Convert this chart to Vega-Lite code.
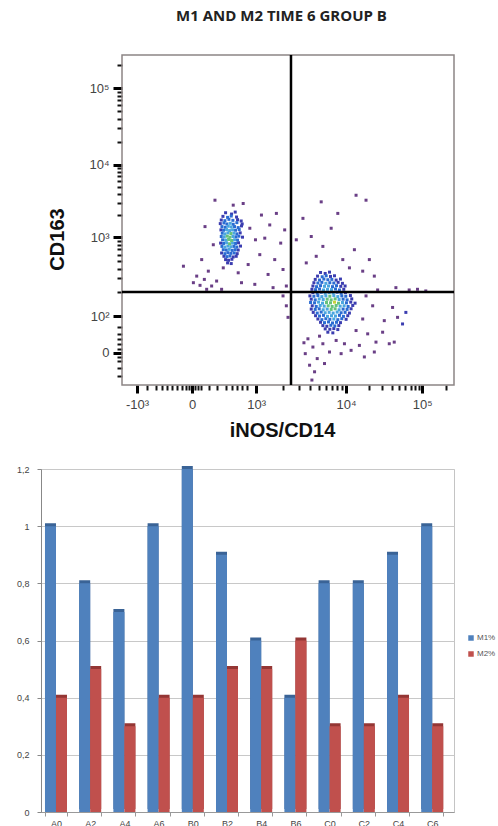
{
  "$schema": "https://vega.github.io/schema/vega-lite/v6.json",
  "padding": {"left": 15, "top": 8, "right": 0, "bottom": 0},
  "spacing": 24,
  "resolve": {"scale": {"color": "independent"}},
  "config": {"font": "Liberation Sans"},
  "datasets": {
    "flow": [
      {"x":31.2,"y":52.2,"d":1},{"x":33.0,"y":51.8,"d":1},{"x":34.1,"y":52.4,"d":1},
      {"x":30.4,"y":51.1,"d":1},{"x":31.8,"y":50.8,"d":2},{"x":32.9,"y":51.2,"d":2},{"x":34.5,"y":50.9,"d":1},
      {"x":29.9,"y":50.0,"d":1},{"x":31.0,"y":49.8,"d":2},{"x":32.2,"y":50.2,"d":2},{"x":33.4,"y":49.9,"d":2},{"x":34.8,"y":50.1,"d":1},{"x":35.9,"y":49.7,"d":1},
      {"x":29.6,"y":48.9,"d":1},{"x":30.7,"y":49.1,"d":2},{"x":31.6,"y":48.8,"d":2},{"x":32.6,"y":49.0,"d":3},{"x":33.5,"y":48.7,"d":2},{"x":34.6,"y":49.2,"d":2},{"x":36.2,"y":48.8,"d":1},
      {"x":30.1,"y":48.0,"d":2},{"x":31.1,"y":47.8,"d":2},{"x":32.0,"y":48.1,"d":3},{"x":32.9,"y":47.9,"d":3},{"x":33.9,"y":48.0,"d":2},{"x":35.0,"y":47.7,"d":2},{"x":36.0,"y":48.2,"d":1},
      {"x":29.8,"y":47.0,"d":1},{"x":30.6,"y":46.9,"d":2},{"x":31.5,"y":47.1,"d":3},{"x":32.4,"y":46.8,"d":3},{"x":33.3,"y":47.0,"d":3},{"x":34.2,"y":46.9,"d":2},{"x":35.3,"y":47.1,"d":2},
      {"x":30.2,"y":46.0,"d":2},{"x":31.0,"y":45.8,"d":3},{"x":31.9,"y":46.1,"d":3},{"x":32.8,"y":45.9,"d":4},{"x":33.7,"y":46.0,"d":3},{"x":34.6,"y":45.8,"d":2},{"x":35.6,"y":46.1,"d":1},
      {"x":29.9,"y":45.0,"d":2},{"x":30.8,"y":44.9,"d":3},{"x":31.7,"y":45.1,"d":4},{"x":32.5,"y":44.8,"d":4},{"x":33.4,"y":45.0,"d":3},{"x":34.3,"y":44.9,"d":2},{"x":35.2,"y":45.1,"d":2},{"x":36.3,"y":44.8,"d":1},
      {"x":30.3,"y":44.0,"d":2},{"x":31.2,"y":43.9,"d":3},{"x":32.1,"y":44.1,"d":4},{"x":33.0,"y":43.8,"d":4},{"x":33.9,"y":44.0,"d":3},{"x":34.8,"y":43.9,"d":2},
      {"x":29.7,"y":43.0,"d":1},{"x":30.6,"y":42.9,"d":2},{"x":31.5,"y":43.1,"d":3},{"x":32.4,"y":42.8,"d":4},{"x":33.3,"y":43.0,"d":3},{"x":34.2,"y":42.9,"d":2},{"x":35.1,"y":43.1,"d":1},
      {"x":30.1,"y":42.0,"d":2},{"x":31.0,"y":41.8,"d":3},{"x":31.9,"y":42.1,"d":3},{"x":32.8,"y":41.9,"d":3},{"x":33.7,"y":42.0,"d":2},{"x":34.6,"y":41.8,"d":2},{"x":35.7,"y":42.1,"d":1},
      {"x":30.5,"y":41.0,"d":2},{"x":31.4,"y":40.9,"d":2},{"x":32.3,"y":41.1,"d":3},{"x":33.2,"y":40.8,"d":2},{"x":34.1,"y":41.0,"d":2},{"x":35.0,"y":40.9,"d":1},
      {"x":30.0,"y":40.0,"d":1},{"x":31.0,"y":39.8,"d":2},{"x":31.9,"y":40.1,"d":2},{"x":32.8,"y":39.9,"d":2},{"x":33.8,"y":40.0,"d":2},{"x":34.7,"y":39.8,"d":1},
      {"x":30.7,"y":39.0,"d":1},{"x":31.6,"y":38.9,"d":2},{"x":32.5,"y":39.1,"d":2},{"x":33.5,"y":38.8,"d":1},{"x":34.4,"y":39.0,"d":1},
      {"x":31.2,"y":38.0,"d":1},{"x":32.1,"y":37.8,"d":1},{"x":33.1,"y":38.1,"d":1},
      {"x":31.8,"y":37.0,"d":1},{"x":32.9,"y":36.8,"d":1},
      {"x":28.0,"y":56.0,"d":0},{"x":36.5,"y":55.0,"d":0},{"x":25.0,"y":48.0,"d":0},{"x":27.5,"y":42.5,"d":0},{"x":38.5,"y":47.5,"d":0},{"x":40.2,"y":44.0,"d":0},{"x":24.0,"y":38.0,"d":0},{"x":26.0,"y":34.5,"d":0},{"x":22.5,"y":33.0,"d":0},{"x":28.5,"y":31.5,"d":0},{"x":30.5,"y":35.5,"d":0},{"x":35.0,"y":34.0,"d":0},{"x":38.0,"y":36.5,"d":0},{"x":41.5,"y":39.5,"d":0},{"x":43.0,"y":44.5,"d":0},{"x":44.5,"y":48.5,"d":0},{"x":46.0,"y":38.0,"d":0},{"x":47.8,"y":43.0,"d":0},{"x":44.0,"y":33.5,"d":0},{"x":40.0,"y":30.5,"d":0},{"x":36.0,"y":31.0,"d":0},{"x":25.5,"y":29.0,"d":0},{"x":21.5,"y":31.0,"d":0},{"x":48.5,"y":35.0,"d":0},{"x":49.5,"y":30.0,"d":0},{"x":45.5,"y":29.5,"d":0},{"x":30.0,"y":29.0,"d":0},{"x":18.5,"y":36.0,"d":0},{"x":33.5,"y":54.5,"d":0},{"x":42.0,"y":51.5,"d":0},{"x":46.5,"y":52.0,"d":0},{"x":49.0,"y":47.0,"d":0},{"x":23.5,"y":30.2,"d":0},{"x":27.0,"y":30.0,"d":0},{"x":24.8,"y":32.0,"d":0},
      {"x":59.8,"y":34.1,"d":1},{"x":61.2,"y":33.8,"d":1},{"x":62.5,"y":34.2,"d":1},
      {"x":58.9,"y":33.0,"d":1},{"x":60.3,"y":32.8,"d":2},{"x":61.5,"y":33.1,"d":2},{"x":62.8,"y":32.9,"d":1},{"x":64.0,"y":33.1,"d":1},
      {"x":58.2,"y":32.0,"d":1},{"x":59.5,"y":31.8,"d":2},{"x":60.8,"y":32.1,"d":2},{"x":62.0,"y":31.9,"d":2},{"x":63.2,"y":32.0,"d":2},{"x":64.5,"y":31.8,"d":1},{"x":65.8,"y":32.1,"d":1},
      {"x":57.8,"y":31.0,"d":1},{"x":59.0,"y":30.9,"d":2},{"x":60.2,"y":31.1,"d":2},{"x":61.4,"y":30.8,"d":3},{"x":62.6,"y":31.0,"d":2},{"x":63.8,"y":30.9,"d":2},{"x":65.1,"y":31.1,"d":1},{"x":66.4,"y":30.8,"d":1},
      {"x":57.5,"y":30.0,"d":1},{"x":58.6,"y":29.8,"d":2},{"x":59.8,"y":30.1,"d":2},{"x":61.0,"y":29.9,"d":3},{"x":62.2,"y":30.0,"d":3},{"x":63.4,"y":29.8,"d":2},{"x":64.6,"y":30.1,"d":2},{"x":65.9,"y":29.9,"d":1},{"x":67.2,"y":30.0,"d":1},
      {"x":57.2,"y":29.0,"d":1},{"x":58.3,"y":28.9,"d":2},{"x":59.5,"y":29.1,"d":2},{"x":60.7,"y":28.8,"d":3},{"x":61.9,"y":29.0,"d":3},{"x":63.1,"y":28.9,"d":3},{"x":64.3,"y":29.1,"d":2},{"x":65.5,"y":28.8,"d":2},{"x":66.8,"y":29.0,"d":1},
      {"x":57.5,"y":28.0,"d":1},{"x":58.8,"y":27.9,"d":2},{"x":60.0,"y":28.1,"d":2},{"x":61.2,"y":27.8,"d":3},{"x":62.4,"y":28.0,"d":3},{"x":63.6,"y":27.9,"d":3},{"x":64.8,"y":28.1,"d":2},{"x":66.0,"y":27.8,"d":2},{"x":67.3,"y":28.0,"d":1},
      {"x":56.6,"y":27.0,"d":1},{"x":57.8,"y":26.9,"d":2},{"x":59.0,"y":27.1,"d":2},{"x":60.2,"y":26.8,"d":3},{"x":61.4,"y":27.0,"d":3},{"x":62.6,"y":26.9,"d":4},{"x":63.8,"y":27.1,"d":3},{"x":65.0,"y":26.8,"d":3},{"x":66.2,"y":27.0,"d":2},{"x":67.4,"y":26.9,"d":2},{"x":68.8,"y":27.1,"d":1},
      {"x":57.0,"y":26.0,"d":1},{"x":58.2,"y":25.8,"d":2},{"x":59.4,"y":26.1,"d":3},{"x":60.6,"y":25.9,"d":3},{"x":61.8,"y":26.0,"d":4},{"x":63.0,"y":25.8,"d":4},{"x":64.2,"y":26.1,"d":4},{"x":65.4,"y":25.9,"d":3},{"x":66.6,"y":26.0,"d":2},{"x":67.8,"y":25.8,"d":2},{"x":69.2,"y":26.1,"d":1},
      {"x":56.8,"y":25.0,"d":2},{"x":58.0,"y":24.9,"d":2},{"x":59.2,"y":25.1,"d":3},{"x":60.4,"y":24.8,"d":3},{"x":61.6,"y":25.0,"d":4},{"x":62.8,"y":24.9,"d":4},{"x":64.0,"y":25.1,"d":5},{"x":65.2,"y":24.8,"d":4},{"x":66.4,"y":25.0,"d":3},{"x":67.6,"y":24.9,"d":2},{"x":68.9,"y":25.1,"d":1},{"x":70.2,"y":24.8,"d":1},
      {"x":57.3,"y":24.0,"d":1},{"x":58.5,"y":23.8,"d":2},{"x":59.7,"y":24.1,"d":3},{"x":60.9,"y":23.9,"d":3},{"x":62.1,"y":24.0,"d":4},{"x":63.3,"y":23.8,"d":4},{"x":64.5,"y":24.1,"d":4},{"x":65.7,"y":23.9,"d":3},{"x":66.9,"y":24.0,"d":3},{"x":68.1,"y":23.8,"d":2},{"x":69.5,"y":24.1,"d":1},
      {"x":57.0,"y":23.0,"d":1},{"x":58.2,"y":22.9,"d":2},{"x":59.4,"y":23.1,"d":2},{"x":60.6,"y":22.8,"d":3},{"x":61.8,"y":23.0,"d":3},{"x":63.0,"y":22.9,"d":4},{"x":64.2,"y":23.1,"d":4},{"x":65.4,"y":22.8,"d":3},{"x":66.6,"y":23.0,"d":2},{"x":67.8,"y":22.9,"d":2},{"x":69.0,"y":23.1,"d":1},
      {"x":57.6,"y":22.0,"d":1},{"x":58.8,"y":21.8,"d":2},{"x":60.0,"y":22.1,"d":2},{"x":61.2,"y":21.9,"d":3},{"x":62.4,"y":22.0,"d":3},{"x":63.6,"y":21.8,"d":3},{"x":64.8,"y":22.1,"d":3},{"x":66.0,"y":21.9,"d":2},{"x":67.2,"y":22.0,"d":2},{"x":68.5,"y":21.8,"d":1},
      {"x":58.3,"y":21.0,"d":1},{"x":59.5,"y":20.9,"d":2},{"x":60.7,"y":21.1,"d":2},{"x":61.9,"y":20.8,"d":3},{"x":63.1,"y":21.0,"d":3},{"x":64.3,"y":20.9,"d":3},{"x":65.5,"y":21.1,"d":2},{"x":66.7,"y":20.8,"d":2},{"x":68.0,"y":21.0,"d":1},
      {"x":59.0,"y":20.0,"d":1},{"x":60.2,"y":19.8,"d":2},{"x":61.4,"y":20.1,"d":2},{"x":62.6,"y":19.9,"d":2},{"x":63.8,"y":20.0,"d":3},{"x":65.0,"y":19.8,"d":2},{"x":66.2,"y":20.1,"d":2},{"x":67.5,"y":19.9,"d":1},
      {"x":59.8,"y":19.0,"d":1},{"x":61.0,"y":18.9,"d":2},{"x":62.2,"y":19.1,"d":2},{"x":63.4,"y":18.8,"d":2},{"x":64.6,"y":19.0,"d":2},{"x":65.8,"y":18.9,"d":1},
      {"x":60.5,"y":18.0,"d":1},{"x":61.7,"y":17.8,"d":1},{"x":62.9,"y":18.1,"d":2},{"x":64.1,"y":17.9,"d":2},{"x":65.3,"y":18.0,"d":1},
      {"x":61.2,"y":17.0,"d":1},{"x":62.6,"y":16.9,"d":1},{"x":63.8,"y":17.1,"d":1},{"x":65.0,"y":16.8,"d":1},
      {"x":62.0,"y":16.0,"d":1},{"x":63.5,"y":15.8,"d":1},
      {"x":56.0,"y":14.0,"d":0},{"x":57.5,"y":11.5,"d":0},{"x":55.2,"y":9.5,"d":0},{"x":58.8,"y":8.0,"d":0},{"x":60.5,"y":12.5,"d":0},{"x":62.5,"y":10.0,"d":0},{"x":56.5,"y":6.0,"d":0},{"x":58.0,"y":4.0,"d":0},{"x":57.2,"y":1.5,"d":0},{"x":59.5,"y":14.8,"d":0},{"x":54.8,"y":12.8,"d":0},{"x":61.0,"y":6.5,"d":0},
      {"x":72.5,"y":20.0,"d":0},{"x":74.0,"y":15.5,"d":0},{"x":76.5,"y":13.0,"d":0},{"x":78.5,"y":16.0,"d":0},{"x":80.5,"y":12.5,"d":0},{"x":82.0,"y":13.0,"d":0},{"x":84.5,"y":18.5,"d":1},{"x":83.0,"y":20.5,"d":0},{"x":85.5,"y":22.0,"d":1},{"x":81.5,"y":23.5,"d":0},{"x":79.0,"y":19.5,"d":0},{"x":75.5,"y":24.0,"d":0},{"x":73.5,"y":27.0,"d":0},{"x":77.0,"y":28.8,"d":0},{"x":82.5,"y":29.5,"d":0},{"x":86.5,"y":28.8,"d":0},{"x":89.0,"y":29.0,"d":0},{"x":91.5,"y":28.5,"d":0},{"x":70.5,"y":16.5,"d":0},{"x":71.5,"y":12.0,"d":0},{"x":67.0,"y":12.5,"d":0},{"x":64.5,"y":13.5,"d":0},{"x":66.0,"y":9.5,"d":0},{"x":69.0,"y":10.5,"d":0},{"x":73.0,"y":8.5,"d":0},{"x":76.0,"y":10.0,"d":0},
      {"x":54.5,"y":50.5,"d":0},{"x":57.0,"y":45.0,"d":0},{"x":58.5,"y":39.0,"d":0},{"x":55.5,"y":37.0,"d":0},{"x":60.5,"y":42.0,"d":0},{"x":63.0,"y":47.5,"d":0},{"x":66.5,"y":38.0,"d":0},{"x":68.5,"y":35.5,"d":0},{"x":70.0,"y":41.0,"d":0},{"x":72.5,"y":34.5,"d":0},{"x":74.5,"y":38.0,"d":0},{"x":70.5,"y":57.5,"d":0},{"x":73.5,"y":56.0,"d":0},{"x":60.0,"y":55.5,"d":0},{"x":52.5,"y":44.0,"d":0},{"x":65.0,"y":52.0,"d":0},{"x":76.0,"y":33.0,"d":0},
      {"x":49.5,"y":24.0,"d":0},{"x":48.5,"y":27.0,"d":0},{"x":50.0,"y":20.5,"d":0}
    ],
    "bars": [
      {"s":"A0","m":"M1%","v":1.0},{"s":"A0","m":"M2%","v":0.4},
      {"s":"A2","m":"M1%","v":0.8},{"s":"A2","m":"M2%","v":0.5},
      {"s":"A4","m":"M1%","v":0.7},{"s":"A4","m":"M2%","v":0.3},
      {"s":"A6","m":"M1%","v":1.0},{"s":"A6","m":"M2%","v":0.4},
      {"s":"B0","m":"M1%","v":1.2},{"s":"B0","m":"M2%","v":0.4},
      {"s":"B2","m":"M1%","v":0.9},{"s":"B2","m":"M2%","v":0.5},
      {"s":"B4","m":"M1%","v":0.6},{"s":"B4","m":"M2%","v":0.5},
      {"s":"B6","m":"M1%","v":0.4},{"s":"B6","m":"M2%","v":0.6},
      {"s":"C0","m":"M1%","v":0.8},{"s":"C0","m":"M2%","v":0.3},
      {"s":"C2","m":"M1%","v":0.8},{"s":"C2","m":"M2%","v":0.3},
      {"s":"C4","m":"M1%","v":0.9},{"s":"C4","m":"M2%","v":0.4},
      {"s":"C6","m":"M1%","v":1.0},{"s":"C6","m":"M2%","v":0.3}
    ]
  },
  "vconcat": [
    {
      "width": 413,
      "height": 330,
      "view": {"stroke": null},
      "title": {"text": "M1 AND M2 TIME 6 GROUP B", "font": "Open Sans", "fontSize": 15, "fontWeight": "bold", "color": "#222", "anchor": "middle", "dx": 34, "offset": 30},
      "resolve": {"axis": {"x": "independent", "y": "independent"}},
      "layer": [
        {
          "data": {"values": [{"x0": 0, "x1": 100, "y0": 0, "y1": 100}]},
          "mark": {"type": "rect", "fillOpacity": 0, "stroke": "#8c8585", "strokeWidth": 1.5},
          "encoding": {
            "x": {"field": "x0", "type": "quantitative", "scale": {"domain": [-24.4, 100], "nice": false, "zero": false},
              "axis": {"orient": "bottom", "values": [4.5, 21.1, 40.4, 67.5, 90.4], "labelExpr": "datum.value < 10 ? '-10³' : datum.value < 30 ? '0' : datum.value < 50 ? '10³' : datum.value < 80 ? '10⁴' : '10⁵'", "domain": false, "grid": false, "tickColor": "#000", "tickWidth": 3, "tickSize": 8, "labelFontSize": 13, "labelColor": "#444", "labelPadding": 5, "labelFlush": false,
                "title": "iNOS/CD14", "titleFontSize": 20, "titleFontWeight": "bold", "titleColor": "#111", "titleX": 241, "titlePadding": 9}},
            "x2": {"field": "x1"},
            "y": {"field": "y0", "type": "quantitative", "scale": {"domain": [0, 100], "nice": false, "zero": false},
              "axis": {"orient": "left", "offset": -81, "values": [9.7, 20.9, 44.8, 66.7, 90], "labelExpr": "datum.value < 15 ? '0' : datum.value < 30 ? '10²' : datum.value < 55 ? '10³' : datum.value < 80 ? '10⁴' : '10⁵'", "domain": false, "grid": false, "tickColor": "#000", "tickWidth": 3, "tickSize": 9, "labelFontSize": 13, "labelColor": "#444", "labelPadding": 4,
                "title": "CD163", "titleFontSize": 20, "titleFontWeight": "bold", "titleColor": "#111", "titleY": 184, "titlePadding": 21}},
            "y2": {"field": "y1"}
          }
        },
        {
          "data": {"values": [{"x0": 0, "x1": 100, "y0": 0, "y1": 100}]},
          "mark": {"type": "rect", "fillOpacity": 0, "strokeOpacity": 0},
          "encoding": {
            "x": {"field": "x0", "type": "quantitative", "scale": {"domain": [-24.4, 100], "nice": false, "zero": false},
              "axis": {"orient": "bottom", "values": [7.5, 10.2, 12.0, 13.6, 15.1, 16.6, 18.1, 19.3, 20.2, 22.0, 22.9, 23.8, 26.2, 28.6, 31.3, 33.1, 34.6, 36.1, 37.7, 48.6, 53.3, 56.7, 59.3, 61.5, 63.3, 64.9, 66.3, 74.4, 78.4, 81.3, 83.5, 85.3, 86.9, 88.2, 89.4, 97.5], "labels": false, "domain": false, "grid": false, "tickColor": "#111", "tickWidth": 2, "tickSize": 5, "title": null}},
            "x2": {"field": "x1"},
            "y": {"field": "y0", "type": "quantitative", "scale": {"domain": [0, 100], "nice": false, "zero": false},
              "axis": {"orient": "left", "offset": -81, "values": [2.7, 5.2, 7.3, 8.5, 10.9, 12.3, 13.8, 15.5, 17.5, 28.1, 32.3, 35.3, 37.6, 39.5, 41.1, 42.5, 43.7, 51.4, 55.2, 58.0, 60.1, 61.8, 63.3, 64.6, 65.7, 73.7, 77.8, 80.7, 83.0, 84.8, 86.4, 87.7, 88.9, 97.0], "labels": false, "domain": false, "grid": false, "tickColor": "#111", "tickWidth": 2, "tickSize": 5, "title": null}},
            "y2": {"field": "y1"}
          }
        },
        {
          "data": {"name": "flow"},
          "mark": {"type": "square", "size": 9, "opacity": 1},
          "encoding": {
            "x": {"field": "x", "type": "quantitative", "axis": null},
            "y": {"field": "y", "type": "quantitative", "axis": null},
            "color": {"field": "d", "type": "ordinal", "legend": null, "scale": {"domain": [0, 1, 2, 3, 4, 5], "range": ["#6a3f86", "#3b3db0", "#2b6cd2", "#4aa6df", "#66c27c", "#c8d23c"]}},
            "order": {"field": "d", "type": "quantitative"}
          }
        },
        {
          "data": {"values": [{"gx": 50.9, "ya": 0, "yb": 100}]},
          "mark": {"type": "rule", "color": "#000", "strokeWidth": 2.5},
          "encoding": {
            "x": {"field": "gx", "type": "quantitative", "axis": null},
            "y": {"field": "ya", "type": "quantitative", "axis": null},
            "y2": {"field": "yb"}
          }
        },
        {
          "data": {"values": [{"gy": 28.2, "xa": 0, "xb": 100}]},
          "mark": {"type": "rule", "color": "#000", "strokeWidth": 2.5},
          "encoding": {
            "y": {"field": "gy", "type": "quantitative", "axis": null},
            "x": {"field": "xa", "type": "quantitative", "axis": null},
            "x2": {"field": "xb"}
          }
        }
      ]
    },
    {
      "width": 413,
      "height": 343,
      "view": {"stroke": "#c4c4c4"},
      "data": {"name": "bars"},
      "encoding": {
        "x": {"field": "s", "type": "nominal", "sort": null, "scale": {"paddingInner": 0.357, "paddingOuter": 0.216, "align": 0.27},
          "axis": {"title": null, "labelAngle": 0, "tickBand": "extent", "domainColor": "#999", "tickColor": "#999", "tickSize": 4, "labelFontSize": 9, "labelColor": "#444", "labelPadding": 3}},
        "xOffset": {"field": "m", "type": "nominal"},
        "y": {"field": "v", "type": "quantitative", "scale": {"domain": [0, 1.2], "nice": false},
          "axis": {"title": null, "values": [0, 0.2, 0.4, 0.6, 0.8, 1, 1.2], "labelExpr": "replace(format(datum.value, '~g'), '.', ',')", "grid": true, "gridColor": "#c8c8c8", "domainColor": "#888", "tickColor": "#888", "tickSize": 4, "labelFontSize": 9, "labelColor": "#444", "labelPadding": 8}}
      },
      "layer": [
        {
          "mark": {"type": "bar", "xOffset": 3, "yOffset": -3, "y2Offset": -3},
          "encoding": {
            "fill": {"condition": {"test": "datum.m === 'M1%'", "value": "#3a6396"}, "value": "#943634"}
          }
        },
        {
          "mark": {"type": "bar"},
          "encoding": {
            "color": {"field": "m", "type": "nominal", "scale": {"domain": ["M1%", "M2%"], "range": ["#4f81bd", "#c0504d"]},
              "legend": {"title": null, "orient": "none", "legendX": 426, "legendY": 165, "symbolType": "square", "symbolSize": 30, "labelFontSize": 8, "labelColor": "#555", "rowPadding": 8, "labelOffset": 2}}
          }
        }
      ]
    }
  ]
}
